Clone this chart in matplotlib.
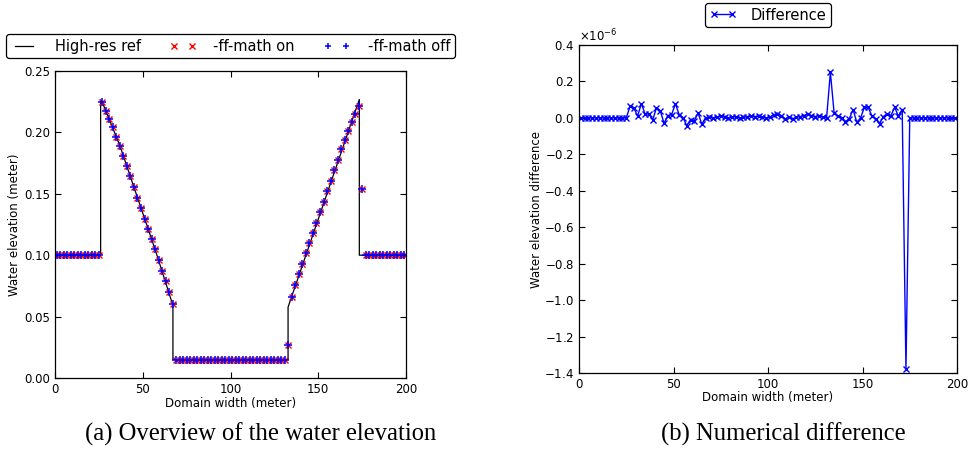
import numpy as np
import matplotlib
matplotlib.use("Agg")
from matplotlib import pyplot as plt

# Cell centres of the coarse run (100 cells over 200 m)
cell_x = np.arange(1, 200, 2)

# Water elevation with -ff-math on (meter), one value per cell
elev_on = ([0.1] * 13
           + [0.2244, 0.2176, 0.2108, 0.2041, 0.1965, 0.1891, 0.1810, 0.1726, 0.1642, 0.1553,
              0.1469, 0.1382, 0.1298, 0.1214, 0.1130, 0.1049, 0.0962, 0.0875, 0.0791, 0.0704, 0.0604]
           + [0.015] * 32
           + [0.0265]
           + [0.0663, 0.0756, 0.0845, 0.0929, 0.1016, 0.1097, 0.1181, 0.1265, 0.1349, 0.1430,
              0.1522, 0.1606, 0.1693, 0.1777, 0.1861, 0.1937, 0.2013, 0.2083, 0.2148, 0.2216]
           + [0.1536]
           + [0.1] * 12)

# Difference on - off, in units of 1e-6 m
diff_e6 = ([0.0] * 13
           + [0.063, 0.055, 0.010, 0.078, 0.020, 0.022, -0.011, 0.056, 0.040, -0.030, 0.013,
              0.018, 0.077, 0.018, 0.002, -0.042, -0.010, -0.016, 0.027, -0.035, 0.002]
           + [0.004, 0.0, 0.004, 0.010, 0.004, 0.0, 0.004, 0.007, 0.0, 0.004, 0.007, 0.010, 0.007, 0.010]
           + [0.004, 0.0, 0.004, 0.018, 0.022, 0.013, -0.005, 0.004, -0.005, 0.004, 0.007, 0.013,
              0.022, 0.013, 0.007, 0.013, 0.004, 0.0]
           + [0.25]
           + [0.025, 0.010, 0.0, -0.020, -0.005, 0.046, -0.024, 0.0, 0.058, 0.058, 0.010, -0.005,
              -0.033, 0.007, 0.022, 0.010, 0.058, 0.010, 0.046]
           + [-1.38]
           + [0.0] * 13)

# High resolution reference profile (breakpoints)
ref_x = [0, 26, 26, 27, 37, 47, 57, 67.2, 67.2, 132.8, 132.8, 173.4, 173.4, 200]
ref_y = [0.1, 0.1, 0.2265, 0.2244, 0.1891, 0.1469, 0.1049, 0.059, 0.015, 0.015, 0.0577, 0.2268, 0.1, 0.1]

elev_on = np.array(elev_on)
diff = np.array(diff_e6) * 1e-6
elev_off = elev_on - diff

fig = plt.figure(figsize=(9.77, 4.63), dpi=100)
ax1 = fig.add_axes([55 / 977, 1 - 378 / 463, 351 / 977, 307 / 463])
ax2 = fig.add_axes([579 / 977, 1 - 373 / 463, 378 / 977, 328 / 463])

# (a) overview
ax1.plot(ref_x, ref_y, color="black", lw=0.9, label="High-res ref")
ax1.plot(cell_x, elev_on, ls="none", marker="x", color="red", ms=5, mew=1.0, label="-ff-math on")
ax1.plot(cell_x, elev_off, ls="none", marker="+", color="blue", ms=5.5, mew=1.1, label="-ff-math off")
ax1.set_xlim(0, 200)
ax1.set_ylim(0, 0.25)
ax1.set_xticks([0, 50, 100, 150, 200])
ax1.set_yticks([0, 0.05, 0.10, 0.15, 0.20, 0.25])
ax1.set_xlabel("Domain width (meter)", fontsize=8.5, labelpad=1)
ax1.set_ylabel("Water elevation (meter)", fontsize=8.5, labelpad=2.5)
leg1 = ax1.legend(loc="lower center", bbox_to_anchor=(0.5, 1.042), ncol=3, numpoints=2,
                  fontsize=10.5, fancybox=True, framealpha=1, edgecolor="black", borderaxespad=0,
                  borderpad=0.3, handlelength=1.8, handletextpad=1.2, columnspacing=2.0,
                  markerscale=0.8)
leg1.get_frame().set_linewidth(0.9)

# (b) difference
ax2.plot(cell_x, diff, color="blue", lw=1.0, marker="x", ms=5, mew=1.0, label="Difference")
ax2.set_xlim(0, 200)
ax2.set_ylim(-1.4e-6, 0.4e-6)
ax2.set_xticks([0, 50, 100, 150, 200])
ax2.set_yticks(np.linspace(-1.4e-6, 0.4e-6, 10))
ax2.ticklabel_format(axis="y", style="sci", scilimits=(0, 0), useMathText=True)
ax2.yaxis.get_offset_text().set_fontsize(8.5)
ax2.set_xlabel("Domain width (meter)", fontsize=8.5, labelpad=0)
ax2.set_ylabel("Water elevation difference", fontsize=8.5, labelpad=1)
leg2 = ax2.legend(loc="lower center", bbox_to_anchor=(0.5, 1.055), numpoints=2,
                  fontsize=10.5, fancybox=True, framealpha=1, edgecolor="black", borderaxespad=0,
                  borderpad=0.3, handlelength=1.8, handletextpad=1.0)
leg2.get_frame().set_linewidth(0.9)

for ax in (ax1, ax2):
    ax.tick_params(direction="in", top=True, right=True, length=4, width=0.8,
                   labelsize=8.5, pad=3.5)
    for sp in ax.spines.values():
        sp.set_linewidth(0.9)

fig.text(261 / 977, 1 - 434 / 463, "(a) Overview of the water elevation",
         family="Liberation Serif", fontsize=17.7, ha="center", va="center")
fig.text(783 / 977, 1 - 434 / 463, "(b) Numerical difference",
         family="Liberation Serif", fontsize=17.7, ha="center", va="center")

fig.savefig("out.png", dpi=100)
plt.close(fig)
